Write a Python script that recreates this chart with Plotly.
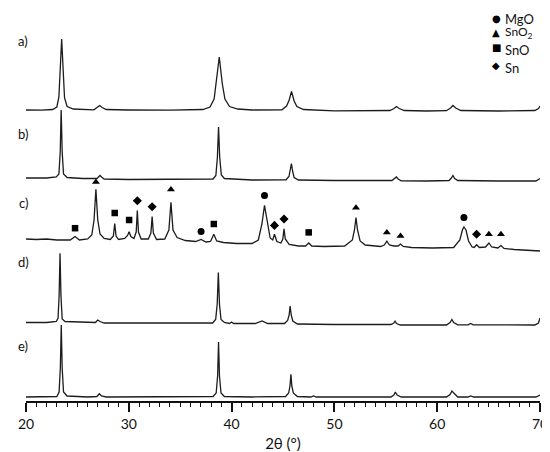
import plotly.graph_objects as go

# =========================================
# XRD patterns a) - e), intensities in a.u.
# =========================================

two_theta_a = [20.0, 21.5, 22.6, 23.0, 23.2, 23.32, 23.47, 23.62, 23.75, 24.0, 24.6,
               26.6, 26.95, 27.17, 27.4, 27.8, 30.0, 34.0,
               37.2, 37.9, 38.3, 38.5, 38.8, 39.1, 39.35, 39.8, 40.6, 42.0,
               44.9, 45.35, 45.6, 45.83, 46.08, 46.35, 47.0, 50.0,
               55.4, 55.8, 56.03, 56.3, 56.8, 59.0,
               60.9, 61.3, 61.53, 61.8, 62.3, 66.0, 69.5, 69.85, 70.0]
intensity_a = [1.0, 0.8, 1.5, 4.0, 14.0, 40.0, 72.0, 40.0, 13.0, 4.5, 2.0,
               1.2, 3.5, 5.5, 3.5, 1.5, 1.0, 0.8,
               1.5, 4.0, 12.0, 27.0, 54.0, 27.0, 12.0, 4.5, 2.0, 1.0,
               1.2, 5.0, 11.0, 19.5, 10.0, 4.5, 1.5, 0.2,
               0.5, 2.5, 4.5, 2.5, 0.5, 0.0,
               0.3, 3.0, 5.5, 3.0, 0.5, 0.0, 0.5, 2.5, 5.0]

two_theta_b = [20.0, 22.0, 22.95, 23.2, 23.33, 23.42, 23.52, 23.65, 24.0, 25.5,
               26.9, 27.08, 27.2, 27.35, 27.6, 30.0, 35.0,
               38.2, 38.47, 38.62, 38.73, 38.84, 39.0, 39.3, 42.0,
               45.3, 45.58, 45.72, 45.82, 45.93, 46.08, 46.5, 50.0,
               55.6, 55.85, 56.03, 56.2, 56.5, 59.0,
               61.15, 61.38, 61.53, 61.7, 62.0, 66.0, 69.6, 70.0]
intensity_b = [4.0, 4.0, 5.0, 8.0, 30.0, 72.0, 30.0, 8.0, 4.5, 3.5,
               3.5, 5.5, 6.5, 5.0, 3.0, 2.5, 2.5,
               3.0, 6.5, 25.0, 55.0, 25.0, 7.0, 3.5, 2.0,
               2.2, 5.5, 12.0, 18.5, 11.0, 4.5, 2.0, 1.5,
               1.5, 3.5, 5.0, 3.0, 1.2, 1.0,
               1.5, 4.0, 6.5, 3.5, 1.5, 1.0, 1.0, 3.5]

two_theta_c = [20.0, 21.0, 22.0, 23.0, 24.3, 24.77, 25.2, 26.0,
               26.4, 26.62, 26.8, 26.98, 27.2, 27.6, 28.2,
               28.5, 28.63, 28.76, 29.0, 29.6, 29.88, 30.03, 30.2, 30.5,
               30.72, 30.83, 30.94, 31.2, 31.9, 32.15, 32.27, 32.39, 32.7,
               33.5, 33.9, 34.1, 34.3, 34.7, 35.5, 36.5,
               37.03, 37.5, 37.95, 38.27, 38.55, 39.2, 40.5, 42.0,
               42.6, 42.95, 43.2, 43.45, 43.75, 44.0, 44.17, 44.4,
               44.8, 44.98, 45.1, 45.22, 45.6, 46.5,
               47.2, 47.5, 47.8, 49.0, 51.0,
               51.75, 51.95, 52.1, 52.25, 52.5, 53.0,
               54.5, 54.85, 55.1, 55.35, 55.8, 56.2, 56.43, 56.7, 57.5, 59.5,
               61.6, 62.2, 62.45, 62.6, 62.8, 63.05, 63.4,
               63.6, 63.83, 64.1, 64.7, 65.03, 65.3, 65.9, 66.2, 66.5,
               67.5, 69.0, 70.0]
intensity_c = [13.0, 12.5, 13.0, 12.0, 12.0, 15.5, 12.0, 13.0,
               17.0, 32.0, 62.6, 32.0, 18.0, 13.5, 12.5,
               16.0, 28.4, 16.0, 12.5, 13.5, 16.5, 20.3, 15.5, 13.5,
               20.0, 41.4, 20.0, 13.0, 13.0, 19.0, 35.4, 19.0, 12.5,
               13.0, 22.0, 49.6, 22.0, 14.5, 11.5, 10.5,
               12.5, 10.0, 10.5, 17.8, 11.0, 9.5, 8.5, 8.5,
               12.0, 28.0, 46.7, 30.0, 14.0, 12.0, 17.8, 10.5,
               9.0, 13.0, 23.1, 13.0, 7.5, 6.0,
               6.0, 9.0, 6.0, 5.5, 6.0,
               12.0, 22.0, 34.4, 22.0, 11.0, 7.0,
               5.5, 7.0, 10.8, 7.0, 6.0, 6.0, 8.0, 5.5, 4.5, 4.0,
               4.5, 12.0, 22.0, 25.0, 22.0, 11.0, 5.0,
               4.5, 7.2, 4.5, 5.0, 9.0, 5.0, 4.0, 6.5, 3.5,
               2.5, 1.5, 1.0]

two_theta_d = [20.0, 22.0, 22.95, 23.12, 23.22, 23.31, 23.4, 23.52, 23.8, 25.5,
               26.75, 26.98, 27.2, 27.6, 31.0, 35.0,
               38.15, 38.45, 38.6, 38.71, 38.82, 38.97, 39.3,
               39.8, 40.0, 40.2, 42.3, 42.96, 43.5,
               45.15, 45.45, 45.6, 45.69, 45.8, 45.95, 46.4, 50.0,
               55.5, 55.78, 55.9, 56.05, 56.4,
               60.9, 61.25, 61.43, 61.6, 62.0, 63.0, 63.25, 63.5,
               66.0, 69.5, 69.85, 70.0]
intensity_d = [3.5, 3.5, 4.5, 8.0, 30.0, 72.7, 30.0, 7.0, 4.5, 3.5,
               3.5, 6.0, 4.5, 3.0, 3.0, 2.5,
               3.0, 6.5, 22.0, 53.4, 22.0, 6.5, 3.5,
               2.5, 4.0, 2.5, 2.5, 5.0, 2.5,
               2.5, 5.5, 11.0, 20.0, 11.0, 5.0, 2.0, 1.5,
               1.5, 3.0, 4.8, 2.5, 1.0,
               1.0, 3.5, 6.5, 3.5, 1.2, 1.2, 2.5, 1.2,
               1.0, 1.0, 3.0, 8.0]

two_theta_e = [20.0, 22.0, 23.0, 23.22, 23.34, 23.43, 23.52, 23.65, 24.0, 26.0,
               26.9, 27.13, 27.35, 27.8, 31.0, 35.0,
               38.2, 38.5, 38.64, 38.73, 38.82, 38.97, 39.3, 42.0,
               45.25, 45.55, 45.68, 45.77, 45.86, 46.0, 46.4,
               47.7, 47.97, 48.25, 52.0,
               55.5, 55.78, 55.93, 56.1, 56.5,
               60.9, 61.25, 61.43, 61.6, 61.75, 62.0, 63.0, 63.27, 63.55,
               67.0, 69.6, 70.0]
intensity_e = [1.0, 1.0, 1.5, 6.0, 30.0, 73.0, 30.0, 6.0, 2.0, 1.0,
               1.5, 4.2, 2.0, 1.0, 1.0, 1.0,
               1.5, 5.0, 22.0, 56.0, 22.0, 5.0, 1.5, 1.0,
               1.5, 5.0, 12.0, 23.6, 12.0, 5.0, 1.5,
               1.0, 2.0, 1.0, 0.8,
               1.0, 3.0, 6.0, 3.0, 1.0,
               1.0, 3.5, 7.0, 5.0, 3.5, 1.0, 1.0, 2.0, 1.0,
               0.8, 1.0, 3.0]

# phase markers on pattern c)
mgo_x = [37.03, 43.2, 62.6]
mgo_y = [20.6, 56.6, 34.4]
sno2_x = [26.8, 34.1, 52.1, 55.1, 56.43, 65.03, 66.2]
sno2_y = [70.0, 62.6, 44.3, 19.6, 16.0, 17.8, 17.8]
sno_x = [24.77, 28.63, 30.03, 38.27, 47.5]
sno_y = [23.8, 39.0, 32.0, 28.0, 19.6]
sn_x = [30.83, 32.27, 44.17, 45.1, 63.83]
sn_y = [51.3, 45.3, 26.6, 33.0, 17.8]

pattern_labels = ["a)", "b)", "c)", "d)", "e)"]
phase_names = ["MgO", "SnO<sub>2</sub>", "SnO", "Sn"]
phase_glyphs = ["\u25CF", "\u25B2", "\u25A0", "\u25C6"]


# =========================================
# Layout geometry (pixels)
# =========================================

W, H = 550, 452
M_L, M_R, M_T, M_B = 13, 11, 10, 58
PLOT_H = H - M_T - M_B
PLOT_W = W - M_L - M_R
BOTTOM = H - M_B

# pixel row of the zero level of each pattern
zero_px = [103, 174, 244, 318, 390]
Y_LO, Y_HI = -3, 82

LINE = "#1c1c1c"
FONT = "Lato"


def domain_for(p):
    return [(BOTTOM - p + Y_LO) / PLOT_H, (BOTTOM - p + Y_HI) / PLOT_H]


def py(pix):
    return (BOTTOM - pix) / PLOT_H


def px(pix):
    return (pix - M_L) / PLOT_W


fig = go.Figure()

patterns = [
    (two_theta_a, intensity_a),
    (two_theta_b, intensity_b),
    (two_theta_c, intensity_c),
    (two_theta_d, intensity_d),
    (two_theta_e, intensity_e),
]

for i, (x, y) in enumerate(patterns):
    fig.add_trace(
        go.Scatter(
            x=x,
            y=y,
            mode="lines",
            line=dict(color=LINE, width=1.3),
            yaxis="y" if i == 0 else f"y{i + 1}",
            showlegend=False,
            hoverinfo="skip"
        )
    )

# markers on c)
for mx, my, sym, size in [
    (mgo_x, mgo_y, "circle", 7),
    (sno2_x, sno2_y, "triangle-up", 7),
    (sno_x, sno_y, "square", 6.5),
    (sn_x, sn_y, "diamond", 7),
]:
    fig.add_trace(
        go.Scatter(
            x=mx,
            y=my,
            mode="markers",
            marker=dict(symbol=sym, size=size, color="black"),
            yaxis="y3",
            showlegend=False,
            hoverinfo="skip"
        )
    )


# =========================================
# Axes
# =========================================

layout_axes = {}
for i, p in enumerate(zero_px):
    key = "yaxis" if i == 0 else f"yaxis{i + 1}"
    layout_axes[key] = dict(
        domain=domain_for(p),
        range=[Y_LO, Y_HI],
        visible=False,
        anchor="x",
        fixedrange=True
    )

fig.update_layout(**layout_axes)

fig.update_layout(

    width=W,
    height=H,

    margin=dict(l=M_L, r=M_R, t=M_T, b=M_B),

    paper_bgcolor="white",
    # transparent so the overlapping strips do not hide each other
    plot_bgcolor="rgba(0,0,0,0)",

    font=dict(family=FONT, color="#111111", size=13),

    xaxis=dict(
        range=[20, 70],
        anchor="free",
        position=0,
        showline=True,
        linecolor="#111111",
        linewidth=1.5,
        showgrid=False,
        zeroline=False,
        ticks="outside",
        ticklen=9,
        tickwidth=1.5,
        tickcolor="#111111",
        dtick=10,
        tick0=20,
        ticklabeloverflow="allow",
        tickfont=dict(size=14, family=FONT),
        minor=dict(
            ticks="outside",
            ticklen=4.5,
            tickwidth=1.2,
            tickcolor="#111111",
            dtick=1,
            showgrid=False
        ),
        title=dict(
            text="2\u03b8 (\u00b0)",
            font=dict(size=15, family=FONT),
            standoff=7
        )
    ),

    showlegend=False
)


# =========================================
# Pattern labels and phase key
# =========================================

label_px = [33, 126, 195, 254, 338]
for text, yp in zip(pattern_labels, label_px):
    fig.add_annotation(
        text=text,
        xref="paper", yref="paper",
        x=px(10), y=py(yp),
        showarrow=False,
        xanchor="center", yanchor="middle",
        font=dict(size=13, family=FONT)
    )

glyph_px = [11, 24, 39, 57]
text_px = [11, 24, 42, 60]
text_size = [13, 12, 13, 13]
for glyph, name, gy, ty, fs in zip(phase_glyphs, phase_names, glyph_px, text_px, text_size):
    fig.add_annotation(
        text=glyph,
        xref="paper", yref="paper",
        x=px(494), y=py(gy),
        showarrow=False,
        xanchor="center", yanchor="middle",
        font=dict(size=10, family="DejaVu Sans", color="black")
    )
    fig.add_annotation(
        text=name,
        xref="paper", yref="paper",
        x=px(502), y=py(ty),
        showarrow=False,
        xanchor="left", yanchor="middle",
        borderpad=0,
        font=dict(size=fs, family=FONT)
    )

fig.write_html("out.html")
